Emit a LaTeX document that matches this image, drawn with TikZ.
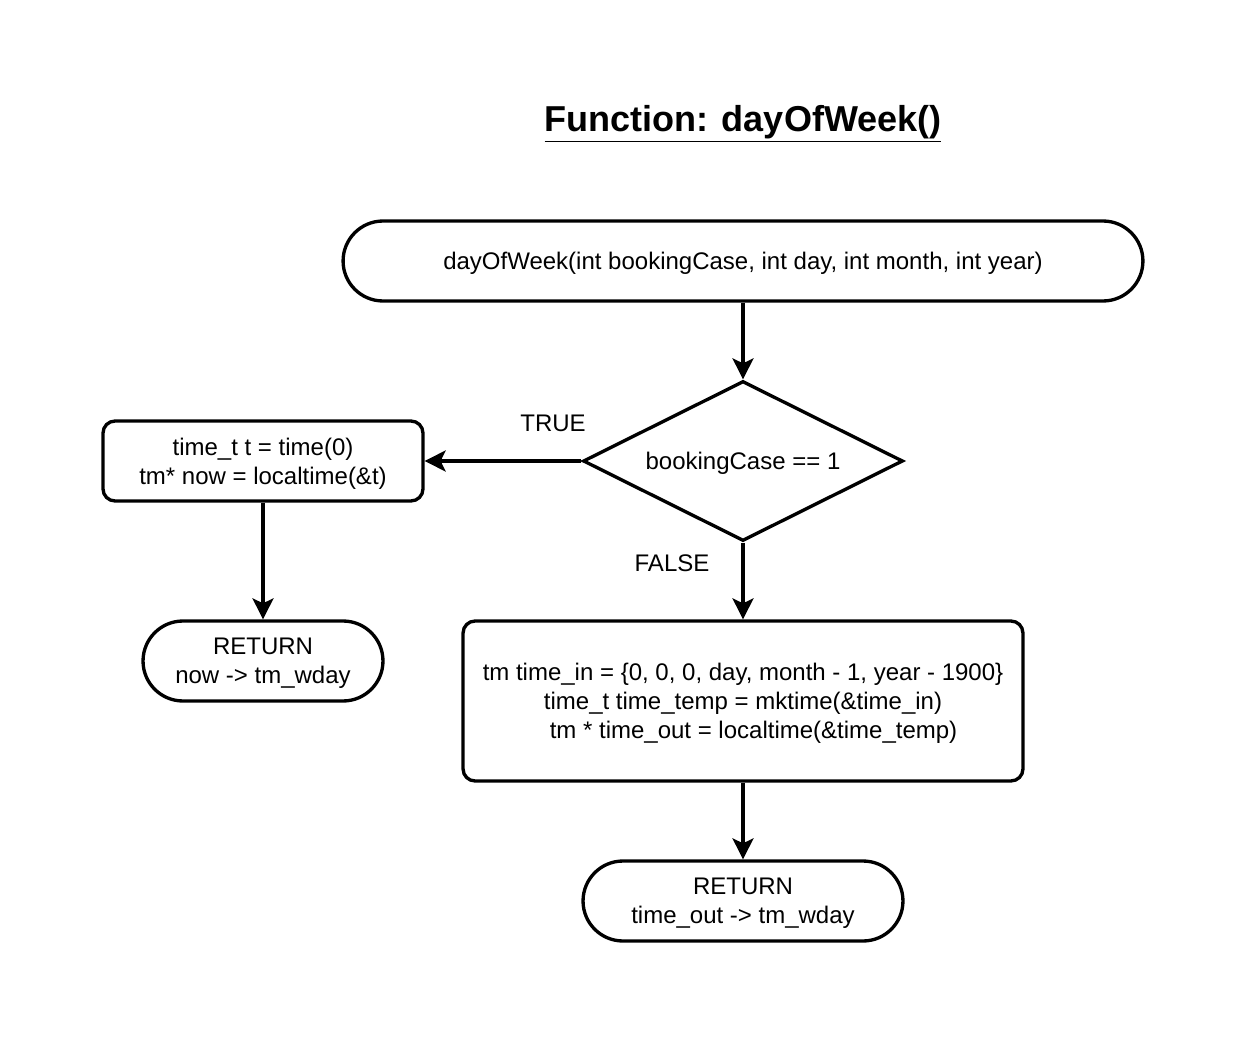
\documentclass[tikz,border=0pt]{standalone}
\usepackage{fontspec}
\setmainfont{Liberation Sans}
\usetikzlibrary{shapes.geometric,arrows.meta}

\tikzset{
  every node/.style={font=\fontsize{13.66}{16.4}\selectfont, align=center, text depth=0pt},
  terminal/.style={draw, line width=1.9pt, rounded corners=0.8cm, minimum height=1.6cm, inner sep=0pt},
  process/.style={draw, line width=1.9pt, rounded corners=0.24cm, inner sep=0pt},
  decision/.style={draw, diamond, shape aspect=2, line width=1.9pt, minimum width=6.4cm, minimum height=3.2cm, inner sep=0pt},
  flowarrow/.style={line width=1.9pt, -{Stealth[length=0.42cm, width=0.42cm, inset=0.1cm]}}
}

\begin{document}
\begin{tikzpicture}[x=0.02cm,y=-0.02cm]
    \useasboundingbox (0,0) rectangle (1244,1044);

    \node (title) at (743,118) {\fontsize{20.5}{24}\selectfont\bfseries\underline{Function: dayOfWeek()}};

    \node (start) at (743,261) [terminal, minimum width=16cm]{dayOfWeek(int bookingCase, int day, int month, int year)};
    \node (cond) at (743,461) [decision]{bookingCase == 1};
    \node (nowbox) at (263,461) [process, minimum width=6.4cm, minimum height=1.6cm]{time\_t t = time(0)\\tm* now = localtime(\&t)};
    \node (retnow) at (263,661) [terminal, minimum width=4.8cm]{RETURN\\now -> tm\_wday};
    \node (calcbox) at (743,701) [process, minimum width=11.2cm, minimum height=3.2cm]{tm time\_in = \{0, 0, 0, day, month - 1, year - 1900\}\\time\_t time\_temp = mktime(\&time\_in)\\\hspace*{0.42cm}tm * time\_out = localtime(\&time\_temp)};
    \node (retout) at (743,901) [terminal, minimum width=6.4cm]{RETURN\\time\_out -> tm\_wday};

    \node (truelbl) at (553,423) {TRUE};
    \node (falselbl) at (672,563) {FALSE};

    \draw[flowarrow] (start) -- (cond);
    \draw[flowarrow] (cond.west) -- (nowbox.east);
    \draw[flowarrow] (nowbox) -- (retnow);
    \draw[flowarrow] (cond.south) -- (calcbox.north);
    \draw[flowarrow] (calcbox) -- (retout);

  \end{tikzpicture}
\end{document}
